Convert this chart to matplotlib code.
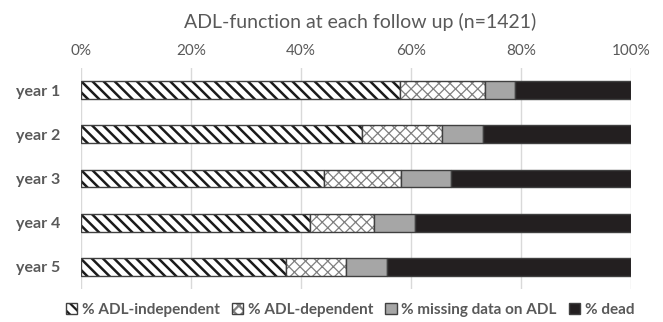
#! /usr/bin/env python3

import matplotlib
matplotlib.use("Agg")
from matplotlib import pyplot as plt
from matplotlib.colors import to_rgba
from matplotlib.patches import Patch

years = ["year 1", "year 2", "year 3", "year 4", "year 5"]
independent = [57.9, 51.0, 44.1, 41.7, 37.2]
dependent = [15.6, 14.7, 14.0, 11.5, 11.0]
missing = [5.3, 7.3, 9.1, 7.5, 7.5]
dead = [21.2, 27.0, 32.8, 39.3, 44.3]
ticks = [0, 20, 40, 60, 80, 100]

GREY_TEXT = "#595959"

plt.rcParams["font.family"] = ["Lato", "DejaVu Sans"]
plt.rcParams["hatch.linewidth"] = 1.6


def style_hatch(p, hatch, hcol, hlw):
    p.set_hatch(hatch)
    p._hatch_color = to_rgba(hcol)
    if hasattr(p, "set_hatch_linewidth"):
        p.set_hatch_linewidth(hlw)


def main():
    fig = plt.figure(figsize=(6.63, 3.22), dpi=100)
    ax = fig.add_axes([0.122, 0.1025, 0.830, 0.6865])

    y = list(range(len(years)))
    left = [0.0] * len(years)
    series = [
        ("% ADL-independent", independent, "white", "\\\\\\", "#1a1a1a", 1.8),
        ("% ADL-dependent", dependent, "white", "xxx", "#808080", 0.9),
        ("% missing data on ADL", missing, "#a6a6a6", None, None, None),
        ("% dead", dead, "#231f20", None, None, None),
    ]
    handles = []
    for label, vals, face, hatch, hcol, hlw in series:
        bars = ax.barh(y, vals, left=left, height=0.4, color=face,
                       edgecolor="#404040", linewidth=1.0, zorder=3)
        if hatch:
            for b in bars:
                style_hatch(b, hatch, hcol, hlw)
        left = [a + b for a, b in zip(left, vals)]
        h = Patch(facecolor=face, edgecolor="#404040", label=label)
        if hatch:
            style_hatch(h, hatch, hcol, hlw)
        handles.append(h)

    ax.set_xlim(0, 100)
    ax.set_ylim(4.5, -0.5)
    ax.set_xticks(ticks)
    ax.set_xticklabels([f"{t}%" for t in ticks])
    ax.xaxis.tick_top()
    ax.tick_params(axis="x", length=0, pad=7, labelsize=11, labelcolor=GREY_TEXT)
    ax.set_yticks(y)
    ax.set_yticklabels(years, fontweight="bold")
    ax.tick_params(axis="y", length=0, pad=15, labelsize=11.5, labelcolor=GREY_TEXT)
    ax.grid(axis="x", color="#d9d9d9", linewidth=1.0, zorder=0)
    for s in ax.spines.values():
        s.set_visible(False)

    fig.text(0.543, 0.932, "ADL-function at each follow up (n=1421)",
             ha="center", va="center", fontsize=14, color=GREY_TEXT)

    fig.legend(handles=handles, loc="center", bbox_to_anchor=(0.528, 0.038),
               ncol=4, frameon=False, handlelength=0.75, handleheight=0.75,
               handletextpad=0.3, columnspacing=0.8,
               prop={"weight": "bold", "size": 11}, labelcolor=GREY_TEXT)

    fig.savefig("out.png", dpi=100)
    return


if __name__ == "__main__":
    main()
